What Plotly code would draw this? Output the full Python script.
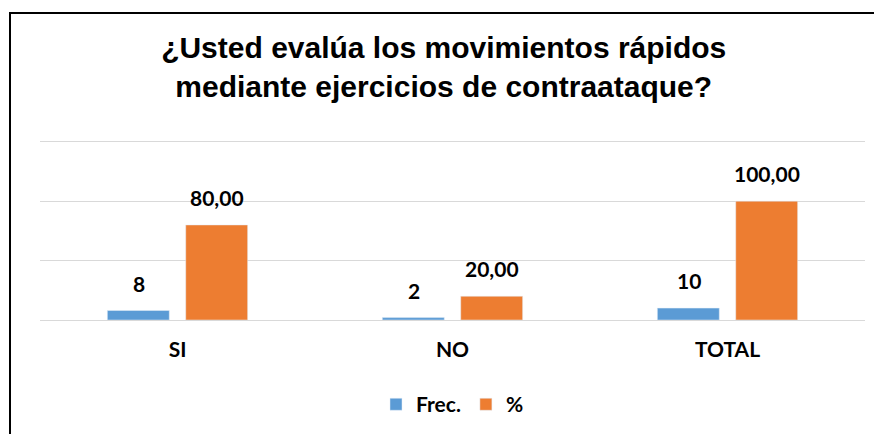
import plotly.graph_objects as go

# data
categorias = ["SI", "NO", "TOTAL"]
frec = [8, 2, 10]
porcentaje = [80, 20, 100]

azul = "#5B9BD5"
naranja = "#ED7D31"
fuente = "Lato"

fig = go.Figure()
fig.add_trace(go.Bar(name="Frec.", x=categorias, y=frec, marker_color=azul))
fig.add_trace(go.Bar(name="%", x=categorias, y=porcentaje, marker_color=naranja))

# data labels, raised above the bars like in the excel chart
anots = []
for cat, f, p in zip(categorias, frec, porcentaje):
    anots.append(dict(x=cat, y=f, text=str(f), xshift=-39, yshift=13))
    anots.append(dict(x=cat, y=p, text=f"{p:.2f}".replace(".", ","), xshift=39, yshift=13))
for a in anots:
    a.update(xref="x", yref="y", showarrow=False, yanchor="bottom",
             font=dict(family=fuente, size=21, color="black", weight="bold"))

# the page body has an 8px margin, so everything is laid out 8px up/left
fig.update_layout(
    width=882, height=434,
    margin=dict(l=32, r=25, t=132, b=122, autoexpand=False),
    paper_bgcolor="white", plot_bgcolor="white",
    barmode="group", bargap=0.43, bargroupgap=0.21,
    title=dict(text="¿Usted evalúa los movimientos rápidos<br>mediante ejercicios de contraataque?",
               x=0.494, xref="container", y=1 - 50 / 434, yref="container", yanchor="middle",
               font=dict(family="Liberation Sans", size=30, color="black", weight="bold")),
    legend=dict(orientation="h", x=0.50, xanchor="center", y=-0.47, yanchor="middle",
                font=dict(family=fuente, size=21, color="black", weight="bold"),
                itemwidth=30, traceorder="normal"),
    annotations=anots,
    shapes=[dict(type="rect", xref="paper", yref="paper",
                 x0=-30 / 825, x1=1.2, y0=-1.0, y1=307 / 180,
                 line=dict(color="black", width=2))],
)
fig.update_xaxes(showline=False, ticks="", ticklabelstandoff=15, automargin=False,
                 tickfont=dict(family=fuente, size=21, color="black", weight="bold"))
fig.update_yaxes(range=[0, 151.5], dtick=50, showticklabels=False, automargin=False,
                 gridcolor="#D9D9D9", gridwidth=1.3, zeroline=True,
                 zerolinecolor="#D9D9D9", zerolinewidth=1.3)

fig.write_html("out.html")
